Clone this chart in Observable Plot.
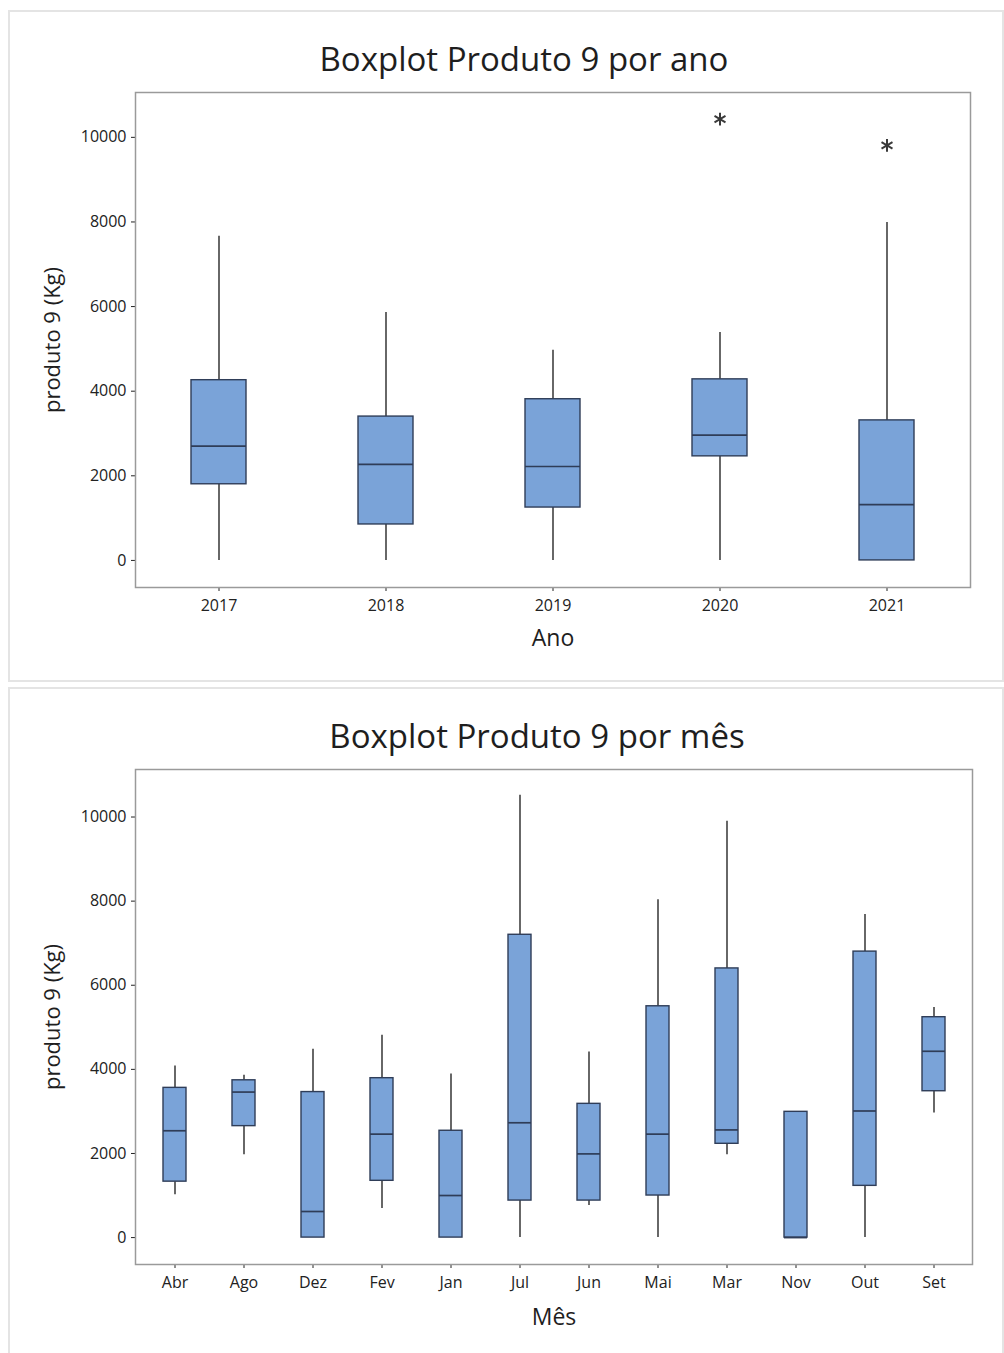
<!DOCTYPE html>
<html lang="pt">
<head>
<meta charset="utf-8">
<script src="https://cdn.jsdelivr.net/npm/d3@7"></script>
<script src="https://cdn.jsdelivr.net/npm/@observablehq/plot@0.6"></script>
<style>
  body { margin: 0; background: #fff; font-family: "Open Sans", sans-serif; }
  .painel { position: absolute; left: 8px; width: 996px; border: 2px solid #e4e4e4; box-sizing: border-box; }
  .titulo { position: absolute; font-size: 33px; line-height: 33px; color: #1e1e1e; white-space: nowrap; transform: translateX(-50%); }
  .grafico { position: absolute; left: 0; }
  .grafico svg { overflow: visible; }
</style>
</head>
<body>
<div class="painel" style="top:10px;height:672px"></div>
<div class="painel" style="top:687px;height:690px"></div>
<div class="titulo" style="left:524px;top:42px">Boxplot Produto 9 por ano</div>
<div class="titulo" style="left:537px;top:719px">Boxplot Produto 9 por mês</div>
<div class="grafico" id="porAno" style="top:80px"></div>
<div class="grafico" id="porMes" style="top:757px"></div>
<script>
// Resumo do boxplot por ano (kg)
const anos        = ["2017", "2018", "2019", "2020", "2021"];
const anoMinimo   = [0, 0, 0, 0, 0];
const anoQ1       = [1800, 850, 1250, 2460, 0];
const anoMediana  = [2700, 2270, 2220, 2960, 1320];
const anoQ3       = [4260, 3400, 3810, 4280, 3310];
const anoMaximo   = [7660, 5860, 4970, 5390, 7990];
const anoOutlierCat   = ["2020", "2021"];
const anoOutlierValor = [10430, 9810];

// Resumo do boxplot por mês (kg)
const meses       = ["Abr", "Ago", "Dez", "Fev", "Jan", "Jul", "Jun", "Mai", "Mar", "Nov", "Out", "Set"];
const mesMinimo   = [1020, 1970, 0, 690, 0, 0, 760, 0, 1970, 0, 0, 2960];
const mesQ1       = [1330, 2650, 0, 1350, 0, 880, 880, 1000, 2230, 0, 1230, 3480];
const mesMediana  = [2540, 3460, 620, 2460, 1000, 2730, 1990, 2460, 2560, 0, 3010, 4430];
const mesQ3       = [3560, 3740, 3460, 3790, 2540, 7200, 3180, 5500, 6400, 2990, 6800, 5240];
const mesMaximo   = [4080, 3860, 4480, 4810, 3890, 10520, 4410, 8030, 9900, 2990, 7680, 5470];

const yTicks = [0, 2000, 4000, 6000, 8000, 10000];
const corCaixa = "#7aa3d8";
const corBorda = "#2f3d58";
const corHaste = "#4d4d4d";

function boxplot({cats, min, q1, med, q3, max, outCat, outVal, xLabel, xLabelDy, yDomain, marginRight}) {
  const linhas = cats.map((c, i) => ({cat: c, min: min[i], q1: q1[i], med: med[i], q3: q3[i], max: max[i]}));
  const outliers = outCat.map((c, i) => ({cat: c, valor: outVal[i]}));
  return Plot.plot({
    width: 1004,
    height: 580,
    marginTop: 12,
    marginBottom: 73,
    marginLeft: 135,
    marginRight,
    style: {fontSize: "16px", fontWeight: 500, fontFamily: "'Open Sans', sans-serif", color: "#222", background: "transparent"},
    x: {domain: cats, paddingInner: 0.67, paddingOuter: 0.335, tickSize: 4, tickPadding: 8, label: null},
    y: {domain: yDomain, ticks: yTicks, tickSize: 4, tickPadding: 5, tickFormat: d => String(d), label: null},
    marks: [
      Plot.ruleX(linhas, {x: "cat", y1: "min", y2: "q1", stroke: corHaste, strokeWidth: 1.7}),
      Plot.ruleX(linhas, {x: "cat", y1: "q3", y2: "max", stroke: corHaste, strokeWidth: 1.7}),
      Plot.barY(linhas, {x: "cat", y1: "q1", y2: "q3", fill: corCaixa, stroke: corBorda, strokeWidth: 1.4}),
      Plot.tickY(linhas, {x: "cat", y: "med", stroke: corBorda, strokeWidth: 1.7}),
      Plot.dot(outliers, {x: "cat", y: "valor", symbol: "asterisk", r: 6, stroke: "#3a3a3a", strokeWidth: 2}),
      Plot.frame({stroke: "#9a9a9a", strokeWidth: 1.5}),
      Plot.text([xLabel], {text: d => d, frameAnchor: "bottom", dy: xLabelDy, fontSize: 23, fontWeight: 500, fill: "#1e1e1e"}),
      Plot.text(["produto 9 (Kg)"], {text: d => d, frameAnchor: "left", textAnchor: "middle", dx: -83, rotate: -90, fontSize: 22, fontWeight: 500, fill: "#1e1e1e"})
    ]
  });
}

document.getElementById("porAno").append(boxplot({
  cats: anos, min: anoMinimo, q1: anoQ1, med: anoMediana, q3: anoQ3, max: anoMaximo,
  outCat: anoOutlierCat, outVal: anoOutlierValor, xLabel: "Ano", xLabelDy: 58,
  yDomain: [-640, 11060], marginRight: 34
}));

document.getElementById("porMes").append(boxplot({
  cats: meses, min: mesMinimo, q1: mesQ1, med: mesMediana, q3: mesQ3, max: mesMaximo,
  outCat: [], outVal: [], xLabel: "Mês", xLabelDy: 60,
  yDomain: [-640, 11130], marginRight: 32
}));
</script>
</body>
</html>
